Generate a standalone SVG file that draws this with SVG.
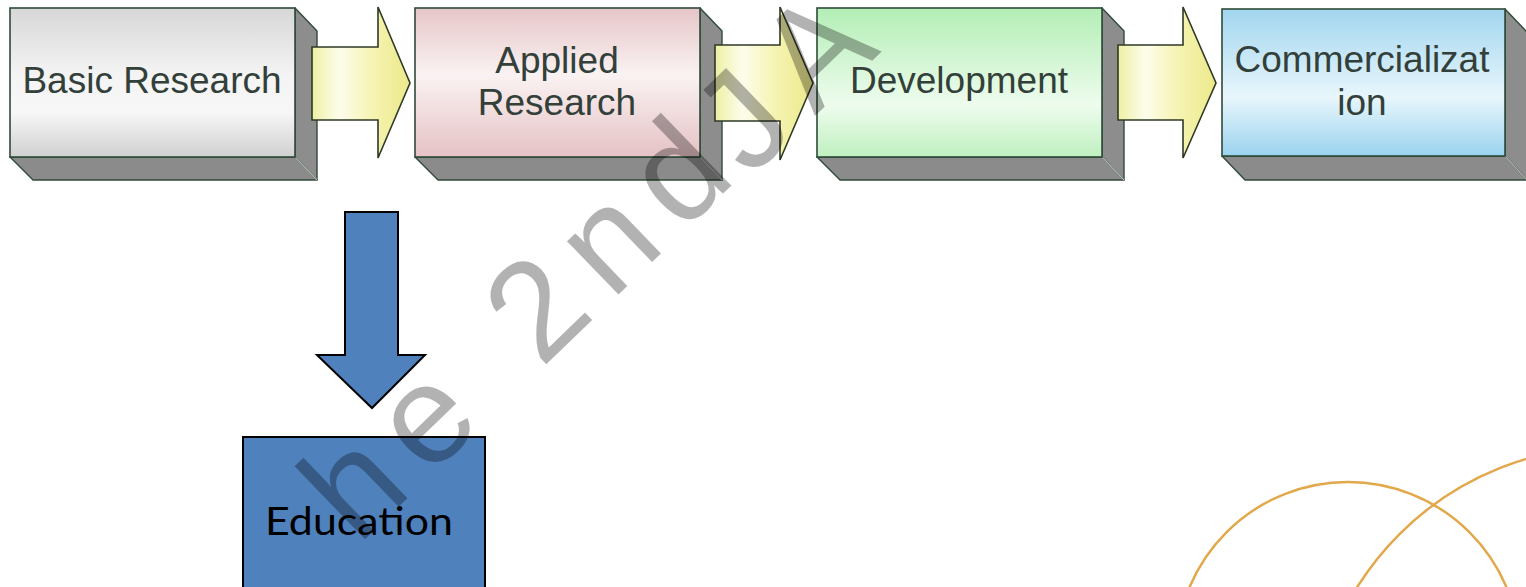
<svg xmlns="http://www.w3.org/2000/svg" width="1526" height="587" viewBox="0 0 1526 587">
  <style>
    .face { stroke: #2f4a3a; stroke-width: 1.6; }
    .side { fill: #8c8d8c; stroke: #2f4a3a; stroke-width: 1.4; stroke-linejoin: round; }
    .bottom { fill: #8a8b8a; stroke: #2f4a3a; stroke-width: 1.4; stroke-linejoin: round; }
    .edge { stroke: #b5b8b5; stroke-width: 1.2; }
    .flow { fill: url(#yellow); stroke: #2e3a26; stroke-width: 1.6; stroke-linejoin: miter; }
    .label { font-family: "Liberation Sans", Arial, sans-serif; font-size: 37px; fill: #33403a; text-anchor: middle; }
    .blue { fill: #4f81bd; stroke: #000; stroke-width: 2; }
    .ring { fill: none; stroke: #e2a84c; stroke-width: 2.5; }
  </style>
  <defs>
    <linearGradient id="gray" x1="0" y1="0" x2="0" y2="1">
      <stop offset="0" stop-color="#d6d7d6"/>
      <stop offset="0.45" stop-color="#f4f4f4"/>
      <stop offset="0.7" stop-color="#f7f7f7"/>
      <stop offset="1" stop-color="#cfd0cf"/>
    </linearGradient>
    <linearGradient id="pink" x1="0" y1="0" x2="0" y2="1">
      <stop offset="0" stop-color="#e6c6c8"/>
      <stop offset="0.45" stop-color="#faf2f2"/>
      <stop offset="1" stop-color="#e5c2c5"/>
    </linearGradient>
    <linearGradient id="green" x1="0" y1="0" x2="0" y2="1">
      <stop offset="0" stop-color="#b3eeb5"/>
      <stop offset="0.65" stop-color="#eefcee"/>
      <stop offset="1" stop-color="#bff0bf"/>
    </linearGradient>
    <linearGradient id="cyan" x1="0" y1="0" x2="0" y2="1">
      <stop offset="0" stop-color="#a2d6ef"/>
      <stop offset="0.6" stop-color="#e8f6fc"/>
      <stop offset="1" stop-color="#9ad3ee"/>
    </linearGradient>
    <linearGradient id="yellow" x1="0" y1="0" x2="1" y2="0">
      <stop offset="0" stop-color="#eef0a4"/>
      <stop offset="0.28" stop-color="#fdfdec"/>
      <stop offset="0.6" stop-color="#f6f4b4"/>
      <stop offset="1" stop-color="#ece98a"/>
    </linearGradient>
  </defs>

  <rect width="1526" height="587" fill="#ffffff"/>

  <!-- decorative rings, lower right -->
  <g id="rings">
    <circle class="ring" cx="1348" cy="654" r="172"/>
    <circle class="ring" cx="1610" cy="745" r="298"/>
  </g>

  <!-- stage blocks: front face, right side, bottom slab -->
  <g id="basic-research">
    <polygon class="side" points="295,8 317,31 317,180 295,157"/>
    <polygon class="bottom" points="10,157 295,157 317,180 33,180"/>
    <line class="edge" x1="295" y1="157" x2="317" y2="180"/>
    <rect class="face" x="10" y="8" width="285" height="149" fill="url(#gray)"/>
    <text class="label" x="152" y="93">Basic Research</text>
  </g>

  <g id="applied-research">
    <polygon class="side" points="700,8 722,31 722,180 700,157"/>
    <polygon class="bottom" points="415,157 700,157 722,180 438,180"/>
    <line class="edge" x1="700" y1="157" x2="722" y2="180"/>
    <rect class="face" x="415" y="8" width="285" height="149" fill="url(#pink)"/>
    <text class="label" x="557" y="73">Applied</text>
    <text class="label" x="557" y="115">Research</text>
  </g>

  <g id="development">
    <polygon class="side" points="1102,8 1124,31 1124,180 1102,157"/>
    <polygon class="bottom" points="817,157 1102,157 1124,180 840,180"/>
    <line class="edge" x1="1102" y1="157" x2="1124" y2="180"/>
    <rect class="face" x="817" y="8" width="285" height="149" fill="url(#green)"/>
    <text class="label" x="959" y="93">Development</text>
  </g>

  <g id="commercialization">
    <polygon class="side" points="1505,9 1527,32 1527,180 1505,156"/>
    <polygon class="bottom" points="1222,156 1505,156 1527,180 1245,180"/>
    <line class="edge" x1="1505" y1="156" x2="1527" y2="180"/>
    <rect class="face" x="1222" y="9" width="283" height="147" fill="url(#cyan)"/>
    <text class="label" x="1362" y="72">Commercializat</text>
    <text class="label" x="1362" y="115">ion</text>
  </g>

  <g id="education">
    <rect class="blue" x="243" y="437" width="242" height="170"/>
    <text x="265" y="535" font-family="Lato, 'Open Sans', sans-serif" font-size="39" textLength="188" lengthAdjust="spacingAndGlyphs" fill="#000">Education</text>
  </g>

  <!-- connectors -->
  <g id="connectors">
    <polygon class="flow" points="312,47 378,47 378,7 410,83 378,158 378,120 312,120"/>
    <polygon class="flow" points="715,45 780,45 780,7 813,83 780,160 780,121 715,121"/>
    <polygon class="flow" points="1118,45 1183,45 1183,7 1216,83 1183,158 1183,120 1118,120"/>
    <polygon class="blue" points="345,212 398,212 398,355 425,355 372,408 317,355 345,355" stroke-width="1.8" stroke-linejoin="miter"/>
  </g>

  <!-- diagonal watermark -->
  <g id="watermark">
    <text x="0" y="0" transform="translate(358 546) rotate(-44)" font-family="'Liberation Sans', Arial, sans-serif" font-size="140" letter-spacing="20" fill="#000" fill-opacity="0.3">he 2nd<tspan dx="-70" dy="8"> JA</tspan></text>
  </g>
</svg>
